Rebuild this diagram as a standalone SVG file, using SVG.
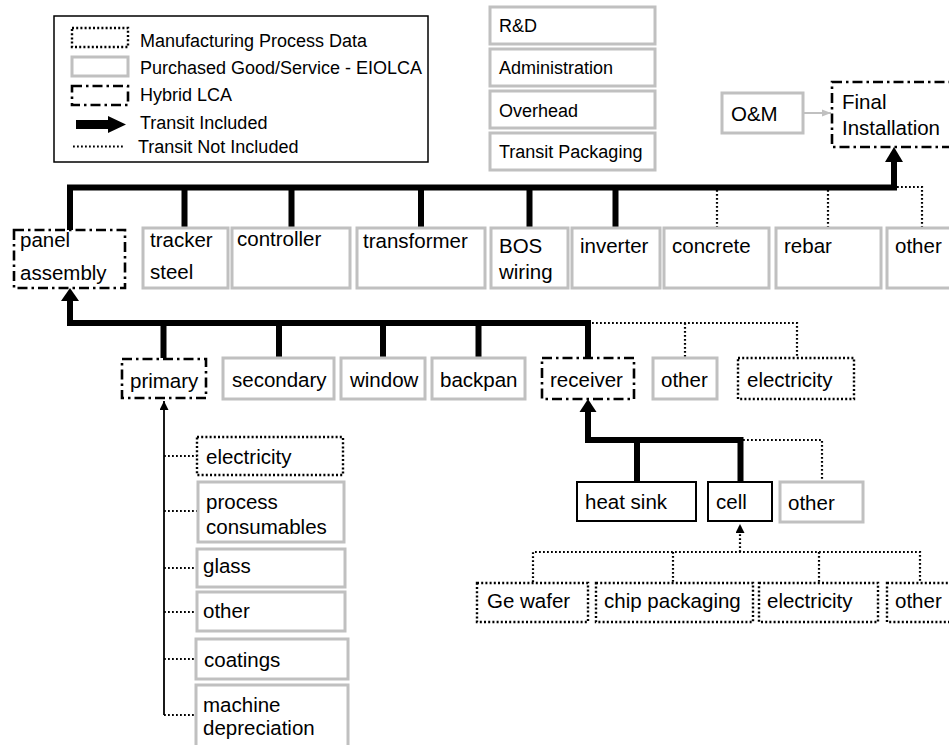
<svg xmlns="http://www.w3.org/2000/svg" width="949" height="745" viewBox="0 0 949 745">
<defs>
<style>
text{font-family:"Liberation Sans",Arial,sans-serif;fill:#000}
.t{font-size:20.5px}
.s{font-size:18px}
.grey{fill:#fff;stroke:#c0c0c0;stroke-width:3}
.dot{fill:#fff;stroke:#000;stroke-width:2.4;stroke-dasharray:2 2.2}
.hyb{fill:#fff;stroke:#000;stroke-width:2.6;stroke-dasharray:10 4 2.5 4}
.blk{fill:#fff;stroke:#000;stroke-width:2}
.thick{fill:none;stroke:#000;stroke-width:6}
.dl{fill:none;stroke:#000;stroke-width:2.2;stroke-dasharray:1.8 2.2}
</style>
<marker id="sm" viewBox="0 0 10 10" refX="10" refY="5" markerWidth="9" markerHeight="9" orient="auto" markerUnits="userSpaceOnUse">
<path d="M0,0 L10,5 L0,10 z" fill="#000"/>
</marker>
<marker id="gr" viewBox="0 0 10 10" refX="10" refY="5" markerWidth="9" markerHeight="9" orient="auto" markerUnits="userSpaceOnUse">
<path d="M0,1 L10,5 L0,9 z" fill="#c0c0c0"/>
</marker>
</defs>
<rect width="949" height="745" fill="#fff"/>

<g id="legend">
<rect x="54" y="16" width="374" height="146" fill="#fff" stroke="#000" stroke-width="1.5"/>
<rect x="72" y="28" width="56" height="19" class="dot"/>
<text class="s" x="140" y="47">Manufacturing Process Data</text>
<rect x="72" y="57" width="56" height="19" class="grey"/>
<text class="s" x="140" y="74">Purchased Good/Service - EIOLCA</text>
<rect x="72" y="86" width="56" height="19" class="hyb"/>
<text class="s" x="140" y="101">Hybrid LCA</text>
<path d="M76,120 H108 V116 L126,124.5 L108,133 V129 H76 z" fill="#000"/>
<text class="s" x="140" y="129">Transit Included</text>
<line x1="73" y1="146.5" x2="124" y2="146.5" class="dl"/>
<text class="s" x="138" y="153">Transit Not Included</text>
</g>

<g id="overhead-boxes">
<g id="rd"><rect x="490" y="7" width="165" height="37" class="grey"/><text class="s" x="499" y="32">R&amp;D</text></g>
<g id="admin"><rect x="490" y="49" width="165" height="37" class="grey"/><text class="s" x="499" y="74">Administration</text></g>
<g id="overhead"><rect x="490" y="91" width="165" height="37" class="grey"/><text class="s" x="499" y="117">Overhead</text></g>
<g id="transit-packaging"><rect x="490" y="133" width="165" height="37" class="grey"/><text class="s" x="499" y="158">Transit Packaging</text></g>
</g>

<g id="connectors">
<line x1="803" y1="113" x2="831" y2="113" stroke="#c0c0c0" stroke-width="2" marker-end="url(#gr)"/>
<path class="thick" d="M70,230 V187.5 H894 V160"/>
<path d="M885,162 L894,147 L903,162 z" fill="#000"/>
<path class="thick" d="M184.5,187.5 V228 M291.5,187.5 V228 M421,187.5 V228 M529.5,187.5 V228 M615.5,187.5 V228"/>
<path class="dl" d="M897,187 H922 V228 M717,190 V228 M828,190 V228"/>
<path class="thick" d="M588,358 V323 H70 V300"/>
<path d="M61,301 L70,288 L79,301 z" fill="#000"/>
<path class="thick" d="M163.5,323 V358 M279,323 V358 M383,323 V358 M478.5,323 V358"/>
<path class="dl" d="M592,323 H797 V358 M685,323 V358"/>
<line x1="164" y1="715" x2="164" y2="401" stroke="#000" stroke-width="1.8" marker-end="url(#sm)"/>
<path class="dl" d="M164,456 H197 M164,511 H198 M164,568 H197 M164,612 H197 M164,659 H196 M164,715 H196"/>
<path class="thick" d="M740.5,482 V440 H588 V411"/>
<path d="M579.5,412 L588,399 L596.5,412 z" fill="#000"/>
<path class="thick" d="M637,440 V482"/>
<path class="dl" d="M743,440 H822 V482"/>
<path class="dl" d="M533,582 V552 H920 V582 M673,552 V582 M819,552 V582"/>
<line x1="740" y1="552" x2="740" y2="524" class="dl" marker-end="url(#sm)"/>
</g>

<g id="final-installation"><rect x="832" y="82" width="130" height="65" class="hyb"/><text class="t" x="842" y="109">Final</text><text class="t" x="842" y="135">Installation</text></g>
<g id="om"><rect x="722" y="93" width="81" height="40" class="grey"/><text class="t" x="731" y="121">O&amp;M</text></g>

<g id="panel-assembly"><rect x="14" y="230" width="111" height="58" class="hyb"/><text class="t" x="20" y="247">panel</text><text class="t" x="20" y="280">assembly</text></g>
<g id="tracker-steel"><rect x="143" y="228" width="85" height="60" class="grey"/><text class="t" x="150" y="247">tracker</text><text class="t" x="150" y="279">steel</text></g>
<g id="controller"><rect x="232" y="228" width="118" height="60" class="grey"/><text class="t" x="237" y="246">controller</text></g>
<g id="transformer"><rect x="357" y="228" width="128" height="60" class="grey"/><text class="t" x="363" y="248">transformer</text></g>
<g id="bos-wiring"><rect x="491" y="228" width="77" height="60" class="grey"/><text class="t" x="499" y="253">BOS</text><text class="t" x="499" y="279">wiring</text></g>
<g id="inverter"><rect x="572" y="228" width="88" height="60" class="grey"/><text class="t" x="580" y="253">inverter</text></g>
<g id="concrete"><rect x="664" y="228" width="105" height="60" class="grey"/><text class="t" x="672" y="253">concrete</text></g>
<g id="rebar"><rect x="776" y="228" width="105" height="60" class="grey"/><text class="t" x="784" y="253">rebar</text></g>
<g id="other-top"><rect x="887" y="228" width="70" height="60" class="grey"/><text class="t" x="895" y="253">other</text></g>

<g id="primary"><rect x="122" y="359" width="84" height="39" class="hyb"/><text class="t" x="130" y="388">primary</text></g>
<g id="secondary"><rect x="223" y="358" width="111" height="41" class="grey"/><text class="t" x="232" y="387">secondary</text></g>
<g id="window"><rect x="341" y="358" width="84" height="41" class="grey"/><text class="t" x="350" y="387">window</text></g>
<g id="backpan"><rect x="432" y="358" width="93" height="41" class="grey"/><text class="t" x="440" y="387">backpan</text></g>
<g id="receiver"><rect x="542" y="358" width="92" height="41" class="hyb"/><text class="t" x="550" y="387">receiver</text></g>
<g id="other-mid"><rect x="653" y="358" width="64" height="41" class="grey"/><text class="t" x="661" y="387">other</text></g>
<g id="electricity-mid"><rect x="738" y="358" width="116" height="41" class="dot"/><text class="t" x="747" y="387">electricity</text></g>

<g id="electricity-primary"><rect x="197" y="437" width="146" height="38" class="dot"/><text class="t" x="206" y="464">electricity</text></g>
<g id="process-consumables"><rect x="198" y="482" width="146" height="60" class="grey"/><text class="t" x="206" y="509">process</text><text class="t" x="206" y="534">consumables</text></g>
<g id="glass"><rect x="197" y="549" width="148" height="38" class="grey"/><text class="t" x="203" y="573">glass</text></g>
<g id="other-primary"><rect x="197" y="592" width="148" height="39" class="grey"/><text class="t" x="203" y="618">other</text></g>
<g id="coatings"><rect x="196" y="639" width="152" height="40" class="grey"/><text class="t" x="204" y="667">coatings</text></g>
<g id="machine-depreciation"><rect x="196" y="685" width="152" height="64" class="grey"/><text class="t" x="203" y="712">machine</text><text class="t" x="203" y="735">depreciation</text></g>

<g id="heat-sink"><rect x="577" y="482" width="119" height="39" class="blk"/><text class="t" x="585" y="509">heat sink</text></g>
<g id="cell"><rect x="708" y="482" width="64" height="39" class="blk"/><text class="t" x="716" y="509">cell</text></g>
<g id="other-receiver"><rect x="780" y="482" width="83" height="40" class="grey"/><text class="t" x="788" y="510">other</text></g>

<g id="ge-wafer"><rect x="477" y="583" width="111" height="39" class="dot"/><text class="t" x="487" y="608">Ge wafer</text></g>
<g id="chip-packaging"><rect x="596" y="583" width="157" height="39" class="dot"/><text class="t" x="604" y="608">chip packaging</text></g>
<g id="electricity-cell"><rect x="759" y="583" width="119" height="39" class="dot"/><text class="t" x="767" y="608">electricity</text></g>
<g id="other-cell"><rect x="887" y="583" width="75" height="39" class="dot"/><text class="t" x="895" y="608">other</text></g>
</svg>
